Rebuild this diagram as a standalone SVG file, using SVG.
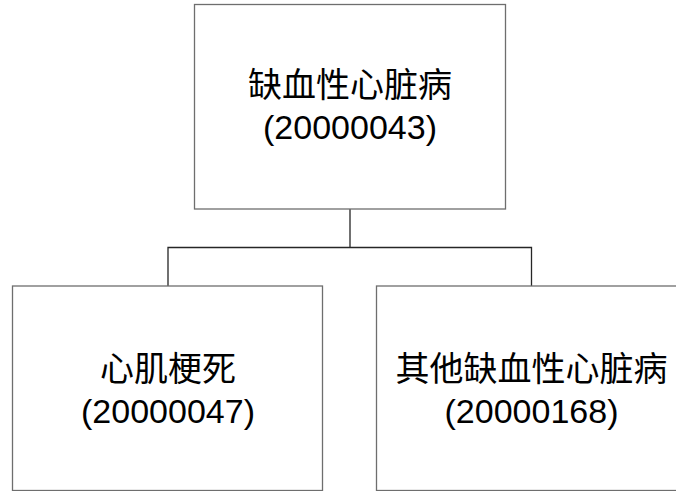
<svg xmlns="http://www.w3.org/2000/svg" width="676" height="491" viewBox="0 0 676 491">
<style>
.box{fill:#ffffff;stroke:#6e6e6e;stroke-width:1.3}
.conn{fill:none;stroke:#262626;stroke-width:1.3}
.cjk{font-family:"Noto Sans CJK SC","Liberation Sans",sans-serif;font-size:34px;fill:#000;text-anchor:middle}
.num{font-family:"Liberation Sans",Arial,sans-serif;font-size:34px;fill:#000;text-anchor:middle}
</style>
<rect width="676" height="491" fill="#ffffff"/>
<g id="connectors">
<path class="conn" d="M350 209 V247.5 M168 286 V247.5 H531.5 V286"/>
</g>
<g id="node-root">
<rect class="box" x="194.5" y="4.5" width="311" height="204.5"/>
<text class="cjk" x="350" y="97">缺血性心脏病</text>
<text class="num" x="350" y="139">(20000043)</text>
</g>
<g id="node-mi">
<rect class="box" x="12.5" y="286" width="310" height="204.5"/>
<text class="cjk" x="168" y="381">心肌梗死</text>
<text class="num" x="168" y="423">(20000047)</text>
</g>
<g id="node-other">
<rect class="box" x="376.5" y="286" width="310" height="204.5"/>
<text class="cjk" x="531.5" y="381">其他缺血性心脏病</text>
<text class="num" x="531.5" y="423">(20000168)</text>
</g>
</svg>
